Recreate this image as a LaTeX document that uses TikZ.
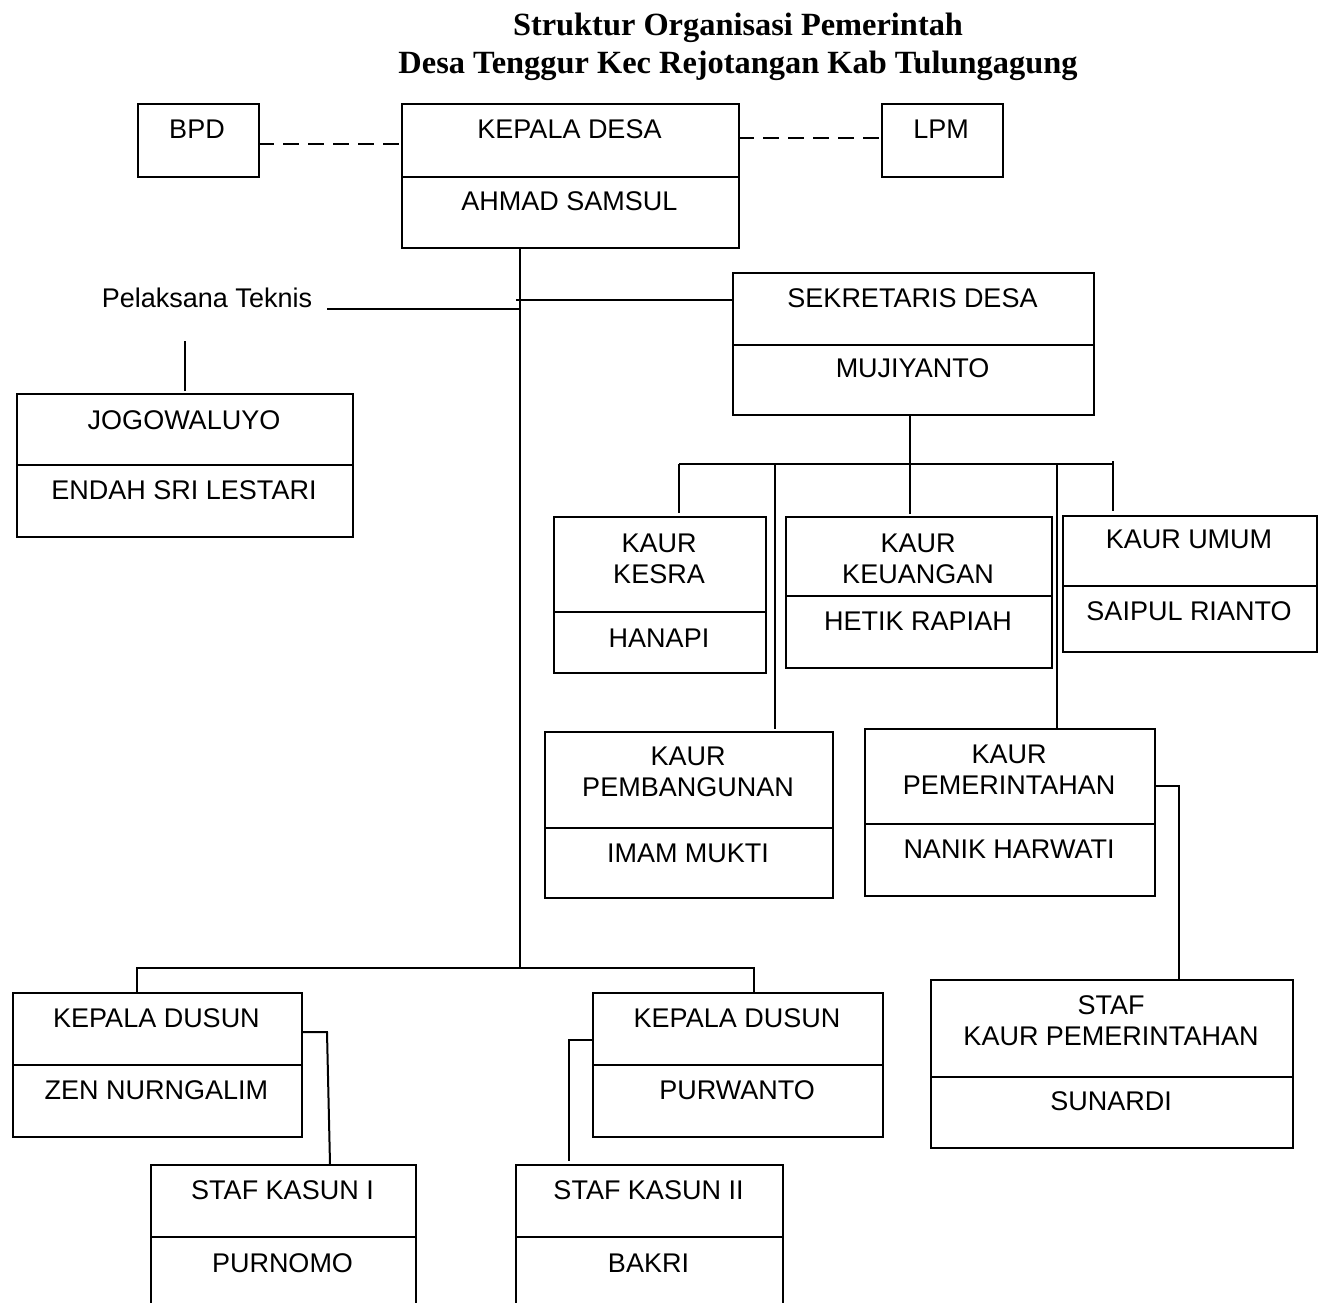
\documentclass[tikz,border=0pt]{standalone}
\usepackage{fontspec}
\setmainfont{Liberation Sans}
\newfontfamily\ttlfont{Liberation Serif}
\newcommand\lbl{\fontsize{27}{31}\selectfont}
\newcommand\two[2]{\begin{tabular}[t]{@{}c@{}}#1\\#2\end{tabular}}
\newcommand\cellnode[5]{\node[cell, minimum width=#4pt-#2pt, minimum height=#5pt-#3pt] (#1) at (#2,#3) {};}
\begin{document}
\begin{tikzpicture}[x=1pt,y=-1pt,
  cell/.style={draw, line width=2.2pt, inner sep=0pt, anchor=north west},
  lab/.style={anchor=base, inner sep=0pt, font=\lbl},
  link/.style={line width=2pt},
  dashlink/.style={line width=2pt, dash pattern=on 16pt off 9pt}]
\useasboundingbox (0,0) rectangle (1322,1302);
\clip (0,0) rectangle (1322,1302);

% title
\node[lab, font=\ttlfont\bfseries\fontsize{32.4}{38}\selectfont] (title) at (738,35)
  {\two{Struktur Organisasi Pemerintah}{Desa Tenggur Kec Rejotangan Kab Tulungagung}};

% boxes
\cellnode{bpd}{137}{103}{258}{176}
\cellnode{kdA}{401}{103}{738}{176}
\cellnode{kdB}{401}{176}{738}{247}
\cellnode{lpm}{881}{103}{1002}{176}
\cellnode{jogA}{16}{393}{352}{464}
\cellnode{jogB}{16}{464}{352}{536}
\cellnode{sekA}{732}{272}{1093}{344}
\cellnode{sekB}{732}{344}{1093}{414}
\cellnode{kesA}{553}{516}{765}{611}
\cellnode{kesB}{553}{611}{765}{672}
\cellnode{keuA}{785}{516}{1051}{595}
\cellnode{keuB}{785}{595}{1051}{667}
\cellnode{umA}{1062}{515}{1316}{585}
\cellnode{umB}{1062}{585}{1316}{651}
\cellnode{pemA}{544}{731}{832}{827}
\cellnode{pemB}{544}{827}{832}{897}
\cellnode{perA}{864}{728}{1154}{823}
\cellnode{perB}{864}{823}{1154}{895}
\cellnode{sfA}{930}{979}{1292}{1076}
\cellnode{sfB}{930}{1076}{1292}{1147}
\cellnode{kd1A}{12}{992}{301}{1064}
\cellnode{kd1B}{12}{1064}{301}{1136}
\cellnode{kd2A}{592}{992}{882}{1064}
\cellnode{kd2B}{592}{1064}{882}{1136}
\cellnode{ks1A}{150}{1164}{415}{1236}
\cellnode{ks1B}{150}{1236}{415}{1330}
\cellnode{ks2A}{515}{1164}{782}{1236}
\cellnode{ks2B}{515}{1236}{782}{1330}

% texts
\node[lab] (tbpd) at (197,138) {BPD};
\node[lab] (tkdA) at (569.5,138) {KEPALA DESA};
\node[lab] (tkdB) at (569.5,210) {AHMAD SAMSUL};
\node[lab] (tlpm) at (941,138) {LPM};
\node[lab] (tpel) at (207,307) {Pelaksana Teknis};
\node[lab] (tjogA) at (184,429) {JOGOWALUYO};
\node[lab] (tjogB) at (184,499) {ENDAH SRI LESTARI};
\node[lab] (tsekA) at (912.5,307) {SEKRETARIS DESA};
\node[lab] (tsekB) at (912.5,377) {MUJIYANTO};
\node[lab] (tkesA) at (659,552) {\two{KAUR}{KESRA}};
\node[lab] (tkesB) at (659,647) {HANAPI};
\node[lab] (tkeuA) at (918,552) {\two{KAUR}{KEUANGAN}};
\node[lab] (tkeuB) at (918,630) {HETIK RAPIAH};
\node[lab] (tumA) at (1189,548) {KAUR UMUM};
\node[lab] (tumB) at (1189,620) {SAIPUL RIANTO};
\node[lab] (tpemA) at (688,765) {\two{KAUR}{PEMBANGUNAN}};
\node[lab] (tpemB) at (688,862) {IMAM MUKTI};
\node[lab] (tperA) at (1009,763) {\two{KAUR}{PEMERINTAHAN}};
\node[lab] (tperB) at (1009,858) {NANIK HARWATI};
\node[lab] (tsfA) at (1111,1014) {\two{STAF}{KAUR PEMERINTAHAN}};
\node[lab] (tsfB) at (1111,1110) {SUNARDI};
\node[lab] (tkd1A) at (156.5,1027) {KEPALA DUSUN};
\node[lab] (tkd1B) at (156.5,1099) {ZEN NURNGALIM};
\node[lab] (tkd2A) at (737,1027) {KEPALA DUSUN};
\node[lab] (tkd2B) at (737,1099) {PURWANTO};
\node[lab] (tks1A) at (282.5,1199) {STAF KASUN I};
\node[lab] (tks1B) at (282.5,1272) {PURNOMO};
\node[lab] (tks2A) at (648.5,1199) {STAF KASUN II};
\node[lab] (tks2B) at (648.5,1272) {BAKRI};

% helper coordinates
\coordinate (dash1) at (258,144);
\coordinate (dash2) at (738,138);
\coordinate (vx) at (520,968);
\coordinate (pt) at (327,309);
\coordinate (sx) at (516,300);
\coordinate (kb) at (910,464);
\coordinate (kbL) at (679,464);
\coordinate (kbR) at (1113,464);
\coordinate (kp1) at (775,464);
\coordinate (kp2) at (1057,464);
\coordinate (ps) at (1179,786);
\coordinate (dL) at (137,968);
\coordinate (dR) at (754,968);
\coordinate (k1) at (327,1032);
\coordinate (k1b) at (330,1164);
\coordinate (k2) at (569,1040);

% connectors
\draw[dashlink] (dash1) -- (dash1 -| kdA.west);
\draw[dashlink] (dash2) -- (dash2 -| lpm.west);
\draw[link] (kdB.south -| vx) -- (vx);
\draw[link] (pt) -- (pt -| vx);
\draw[link] (sx) -- (sx -| sekA.west);
\draw[link] ([yshift=2pt]jogA.north) -- ++(0,-50);
\draw[link] (sekB.south -| kb) -- (kb);
\draw[link] (kbL) -- (kbR);
\draw[link] ([yshift=3pt]kbR) -- ([yshift=4pt]umA.north -| kbR);
\draw[link] (kbL) -- ([yshift=3pt]kesA.north -| kbL);
\draw[link] (kb) -- ([yshift=2pt]keuA.north -| kb);
\draw[link] (kp1) -- ([yshift=2pt]pemA.north -| kp1);
\draw[link] (kp2) -- (perA.north -| kp2);
\draw[link] (perA.east |- ps) -- (ps) -- (sfA.north -| ps);
\draw[link] (dL |- kd1A.north) -- (dL) -- (dR) -- (dR |- kd2A.north);
\draw[link] (kd1A.east |- k1) -- (k1) -- (k1b);
\draw[link] (kd2A.west |- k2) -- (k2) -- ([yshift=3pt]ks2A.north -| k2);
\end{tikzpicture}
\end{document}
